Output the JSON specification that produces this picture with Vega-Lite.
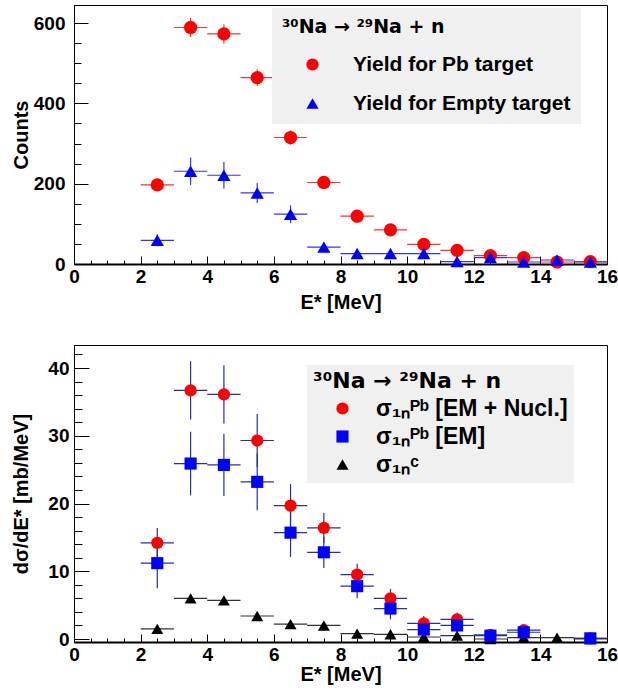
{
  "$schema": "https://vega.github.io/schema/vega-lite/v6.json",
  "padding": {"left": 10, "top": 4, "right": 0, "bottom": 0},
  "background": "white",
  "config": {
    "view": {"stroke": "black", "strokeWidth": 1},
    "axis": {
      "labelFont": "Liberation Sans", "labelFontWeight": "bold", "labelFontSize": 19, "labelColor": "black",
      "titleFont": "Liberation Sans", "titleFontWeight": "bold", "titleFontSize": 20, "titleColor": "black",
      "domainColor": "black", "tickColor": "black", "grid": false,
      "labelOverlap": false, "labelBound": false, "labelFlush": false
    },
    "legend": {
      "titleFont": "DejaVu Sans", "titleFontWeight": "bold", "titleColor": "black", "titleLimit": 400,
      "labelFont": "Liberation Sans", "labelFontWeight": "bold", "labelColor": "black",
      "fillColor": "#f0f0f0", "strokeColor": null
    }
  },
  "datasets": {
    "pts": [
      {"panel": "top", "series": "Yield for Pb target", "E": 2.5, "lo": 2, "hi": 3, "y": 197, "ylo": 183, "yhi": 211},
      {"panel": "top", "series": "Yield for Pb target", "E": 3.5, "lo": 3, "hi": 4, "y": 589, "ylo": 565, "yhi": 613},
      {"panel": "top", "series": "Yield for Pb target", "E": 4.5, "lo": 4, "hi": 5, "y": 573, "ylo": 549, "yhi": 597},
      {"panel": "top", "series": "Yield for Pb target", "E": 5.5, "lo": 5, "hi": 6, "y": 464, "ylo": 443, "yhi": 485},
      {"panel": "top", "series": "Yield for Pb target", "E": 6.5, "lo": 6, "hi": 7, "y": 315, "ylo": 297, "yhi": 333},
      {"panel": "top", "series": "Yield for Pb target", "E": 7.5, "lo": 7, "hi": 8, "y": 203, "ylo": 189, "yhi": 217},
      {"panel": "top", "series": "Yield for Pb target", "E": 8.5, "lo": 8, "hi": 9, "y": 119, "ylo": 108, "yhi": 130},
      {"panel": "top", "series": "Yield for Pb target", "E": 9.5, "lo": 9, "hi": 10, "y": 85, "ylo": 76, "yhi": 94},
      {"panel": "top", "series": "Yield for Pb target", "E": 10.5, "lo": 10, "hi": 11, "y": 49, "ylo": 42, "yhi": 56},
      {"panel": "top", "series": "Yield for Pb target", "E": 11.5, "lo": 11, "hi": 12, "y": 34, "ylo": 28, "yhi": 40},
      {"panel": "top", "series": "Yield for Pb target", "E": 12.5, "lo": 12, "hi": 13, "y": 21, "ylo": 16, "yhi": 26},
      {"panel": "top", "series": "Yield for Pb target", "E": 13.5, "lo": 13, "hi": 14, "y": 16, "ylo": 12, "yhi": 20},
      {"panel": "top", "series": "Yield for Pb target", "E": 14.5, "lo": 14, "hi": 15, "y": 5, "ylo": 3, "yhi": 7},
      {"panel": "top", "series": "Yield for Pb target", "E": 15.5, "lo": 15, "hi": 16, "y": 6, "ylo": 4, "yhi": 8},
      {"panel": "top", "series": "Yield for Empty target", "E": 2.5, "lo": 2, "hi": 3, "y": 59, "ylo": 44, "yhi": 74},
      {"panel": "top", "series": "Yield for Empty target", "E": 3.5, "lo": 3, "hi": 4, "y": 231, "ylo": 197, "yhi": 265},
      {"panel": "top", "series": "Yield for Empty target", "E": 4.5, "lo": 4, "hi": 5, "y": 221, "ylo": 188, "yhi": 254},
      {"panel": "top", "series": "Yield for Empty target", "E": 5.5, "lo": 5, "hi": 6, "y": 177, "ylo": 152, "yhi": 202},
      {"panel": "top", "series": "Yield for Empty target", "E": 6.5, "lo": 6, "hi": 7, "y": 124, "ylo": 102, "yhi": 146},
      {"panel": "top", "series": "Yield for Empty target", "E": 7.5, "lo": 7, "hi": 8, "y": 42, "ylo": 30, "yhi": 54},
      {"panel": "top", "series": "Yield for Empty target", "E": 8.5, "lo": 8, "hi": 9, "y": 26, "ylo": 17, "yhi": 35},
      {"panel": "top", "series": "Yield for Empty target", "E": 9.5, "lo": 9, "hi": 10, "y": 26, "ylo": 17, "yhi": 35},
      {"panel": "top", "series": "Yield for Empty target", "E": 10.5, "lo": 10, "hi": 11, "y": 26, "ylo": 17, "yhi": 35},
      {"panel": "top", "series": "Yield for Empty target", "E": 11.5, "lo": 11, "hi": 12, "y": 6, "ylo": 2, "yhi": 10},
      {"panel": "top", "series": "Yield for Empty target", "E": 12.5, "lo": 12, "hi": 13, "y": 16, "ylo": 9, "yhi": 23},
      {"panel": "top", "series": "Yield for Empty target", "E": 13.5, "lo": 13, "hi": 14, "y": 5, "ylo": 1, "yhi": 9},
      {"panel": "top", "series": "Yield for Empty target", "E": 14.5, "lo": 14, "hi": 15, "y": 10, "ylo": 5, "yhi": 15},
      {"panel": "top", "series": "Yield for Empty target", "E": 15.5, "lo": 15, "hi": 16, "y": 5, "ylo": 1, "yhi": 9},
      {"panel": "bot", "series": "C", "E": 2.5, "lo": 2, "hi": 3, "y": 1.5, "ylo": 1.2, "yhi": 1.8},
      {"panel": "bot", "series": "C", "E": 3.5, "lo": 3, "hi": 4, "y": 6.0, "ylo": 5.6, "yhi": 6.4},
      {"panel": "bot", "series": "C", "E": 4.5, "lo": 4, "hi": 5, "y": 5.7, "ylo": 5.3, "yhi": 6.1},
      {"panel": "bot", "series": "C", "E": 5.5, "lo": 5, "hi": 6, "y": 3.4, "ylo": 3.1, "yhi": 3.7},
      {"panel": "bot", "series": "C", "E": 6.5, "lo": 6, "hi": 7, "y": 2.2, "ylo": 2.0, "yhi": 2.4},
      {"panel": "bot", "series": "C", "E": 7.5, "lo": 7, "hi": 8, "y": 2.0, "ylo": 1.8, "yhi": 2.2},
      {"panel": "bot", "series": "C", "E": 8.5, "lo": 8, "hi": 9, "y": 0.8, "ylo": 0.6, "yhi": 1.0},
      {"panel": "bot", "series": "C", "E": 9.5, "lo": 9, "hi": 10, "y": 0.7, "ylo": 0.5, "yhi": 0.9},
      {"panel": "bot", "series": "C", "E": 10.5, "lo": 10, "hi": 11, "y": 0.3, "ylo": 0.2, "yhi": 0.4},
      {"panel": "bot", "series": "C", "E": 11.5, "lo": 11, "hi": 12, "y": 0.5, "ylo": 0.4, "yhi": 0.6},
      {"panel": "bot", "series": "C", "E": 12.5, "lo": 12, "hi": 13, "y": 0.0, "ylo": 0.0, "yhi": 0.1},
      {"panel": "bot", "series": "C", "E": 13.5, "lo": 13, "hi": 14, "y": 0.2, "ylo": 0.1, "yhi": 0.3},
      {"panel": "bot", "series": "C", "E": 14.5, "lo": 14, "hi": 15, "y": 0.2, "ylo": 0.1, "yhi": 0.3},
      {"panel": "bot", "series": "C", "E": 15.5, "lo": 15, "hi": 16, "y": 0.0, "ylo": 0.0, "yhi": 0.1},
      {"panel": "bot", "series": "EMN", "E": 2.5, "lo": 2, "hi": 3, "y": 14.2, "ylo": 12.0, "yhi": 16.4},
      {"panel": "bot", "series": "EMN", "E": 3.5, "lo": 3, "hi": 4, "y": 36.7, "ylo": 32.4, "yhi": 41.0},
      {"panel": "bot", "series": "EMN", "E": 4.5, "lo": 4, "hi": 5, "y": 36.1, "ylo": 31.8, "yhi": 40.4},
      {"panel": "bot", "series": "EMN", "E": 5.5, "lo": 5, "hi": 6, "y": 29.3, "ylo": 25.4, "yhi": 33.2},
      {"panel": "bot", "series": "EMN", "E": 6.5, "lo": 6, "hi": 7, "y": 19.7, "ylo": 16.5, "yhi": 22.9},
      {"panel": "bot", "series": "EMN", "E": 7.5, "lo": 7, "hi": 8, "y": 16.4, "ylo": 14.2, "yhi": 18.6},
      {"panel": "bot", "series": "EMN", "E": 8.5, "lo": 8, "hi": 9, "y": 9.5, "ylo": 7.9, "yhi": 11.1},
      {"panel": "bot", "series": "EMN", "E": 9.5, "lo": 9, "hi": 10, "y": 6.0, "ylo": 4.6, "yhi": 7.4},
      {"panel": "bot", "series": "EMN", "E": 10.5, "lo": 10, "hi": 11, "y": 2.3, "ylo": 1.2, "yhi": 3.4},
      {"panel": "bot", "series": "EMN", "E": 11.5, "lo": 11, "hi": 12, "y": 2.9, "ylo": 1.9, "yhi": 3.9},
      {"panel": "bot", "series": "EMN", "E": 12.5, "lo": 12, "hi": 13, "y": 0.6, "ylo": 0.0, "yhi": 1.2},
      {"panel": "bot", "series": "EMN", "E": 13.5, "lo": 13, "hi": 14, "y": 1.3, "ylo": 0.7, "yhi": 1.9},
      {"panel": "bot", "series": "EMN", "E": 15.5, "lo": 15, "hi": 16, "y": 0.1, "ylo": -0.2, "yhi": 0.4},
      {"panel": "bot", "series": "EM", "E": 2.5, "lo": 2, "hi": 3, "y": 11.2, "ylo": 7.5, "yhi": 14.9},
      {"panel": "bot", "series": "EM", "E": 3.5, "lo": 3, "hi": 4, "y": 25.9, "ylo": 21.2, "yhi": 30.6},
      {"panel": "bot", "series": "EM", "E": 4.5, "lo": 4, "hi": 5, "y": 25.7, "ylo": 21.1, "yhi": 30.3},
      {"panel": "bot", "series": "EM", "E": 5.5, "lo": 5, "hi": 6, "y": 23.2, "ylo": 19.0, "yhi": 27.4},
      {"panel": "bot", "series": "EM", "E": 6.5, "lo": 6, "hi": 7, "y": 15.7, "ylo": 12.1, "yhi": 19.3},
      {"panel": "bot", "series": "EM", "E": 7.5, "lo": 7, "hi": 8, "y": 12.8, "ylo": 10.5, "yhi": 15.1},
      {"panel": "bot", "series": "EM", "E": 8.5, "lo": 8, "hi": 9, "y": 7.8, "ylo": 6.0, "yhi": 9.6},
      {"panel": "bot", "series": "EM", "E": 9.5, "lo": 9, "hi": 10, "y": 4.5, "ylo": 2.9, "yhi": 6.1},
      {"panel": "bot", "series": "EM", "E": 10.5, "lo": 10, "hi": 11, "y": 1.4, "ylo": 0.2, "yhi": 2.6},
      {"panel": "bot", "series": "EM", "E": 11.5, "lo": 11, "hi": 12, "y": 2.0, "ylo": 0.8, "yhi": 3.2},
      {"panel": "bot", "series": "EM", "E": 12.5, "lo": 12, "hi": 13, "y": 0.5, "ylo": -0.2, "yhi": 1.2},
      {"panel": "bot", "series": "EM", "E": 13.5, "lo": 13, "hi": 14, "y": 1.0, "ylo": 0.4, "yhi": 1.6},
      {"panel": "bot", "series": "EM", "E": 15.5, "lo": 15, "hi": 16, "y": 0.1, "ylo": -0.2, "yhi": 0.4}
    ],
    "labels": [
      {"series": "EMN", "label": "σ₁ₙᴾᵇ [EM + Nucl.]"},
      {"series": "EM", "label": "σ₁ₙᴾᵇ [EM]"},
      {"series": "C", "label": "σ₁ₙᶜ"}
    ]
  },
  "data": {"name": "pts"},
  "resolve": {"scale": {"color": "independent", "shape": "independent", "size": "independent"}, "legend": {"color": "independent", "shape": "independent", "size": "independent"}},
  "spacing": 31,
  "vconcat": [
    {
      "width": 533,
      "height": 259,
      "transform": [{"filter": "datum.panel === 'top'"}],
      "resolve": {"axis": {"x": "independent", "y": "independent"}},
      "layer": [
        {"transform": [{"filter": "datum.series === 'Yield for Pb target'"}], "mark": {"type": "rule", "color": "#ff3030", "strokeWidth": 1.2},
          "encoding": {
            "x": {"field": "lo", "type": "quantitative", "scale": {"domain": [0, 16], "nice": false, "zero": false},
              "axis": {"orient": "bottom", "title": "E* [MeV]", "values": [0,2,4,6,8,10,12,14,16], "format": "d", "tickSize": -8, "labelPadding": 11, "titlePadding": 6, "domainWidth": 2, "labelOverlap": false}},
            "x2": {"field": "hi"},
            "y": {"field": "y", "type": "quantitative", "scale": {"domain": [0, 645], "nice": false},
              "axis": {"orient": "left", "title": "Counts", "values": [0,200,400,600], "format": "d", "tickSize": -14, "labelPadding": 23, "titlePadding": 2, "domainWidth": 1, "labelOverlap": false}}}},
        {"transform": [{"filter": "datum.series === 'Yield for Pb target'"}], "mark": {"type": "rule", "color": "#ff3030", "strokeWidth": 1.2},
          "encoding": {
            "x": {"field": "E", "type": "quantitative",
              "axis": {"orient": "bottom", "title": null, "labels": false, "domain": false, "values": [0.5,1,1.5,2.5,3,3.5,4.5,5,5.5,6.5,7,7.5,8.5,9,9.5,10.5,11,11.5,12.5,13,13.5,14.5,15,15.5], "tickSize": -4}},
            "y": {"field": "ylo", "type": "quantitative",
              "axis": {"orient": "left", "title": null, "labels": false, "domain": false, "values": [50,100,150,250,300,350,450,500,550], "tickSize": -7}},
            "y2": {"field": "yhi"}}},
        {"transform": [{"filter": "datum.series === 'Yield for Empty target'"}], "mark": {"type": "rule", "color": "#3030ff", "strokeWidth": 1.2},
          "encoding": {"x": {"field": "lo", "type": "quantitative", "axis": null}, "x2": {"field": "hi"}, "y": {"field": "y", "type": "quantitative", "axis": null}}},
        {"transform": [{"filter": "datum.series === 'Yield for Empty target'"}], "mark": {"type": "rule", "color": "#3030ff", "strokeWidth": 1.2},
          "encoding": {"x": {"field": "E", "type": "quantitative", "axis": null}, "y": {"field": "ylo", "type": "quantitative", "axis": null}, "y2": {"field": "yhi"}}},
        {"mark": {"type": "point", "filled": true, "opacity": 1, "size": 175},
          "encoding": {
            "x": {"field": "E", "type": "quantitative", "axis": null},
            "y": {"field": "y", "type": "quantitative", "axis": null},
            "color": {"field": "series", "type": "nominal", "scale": {"domain": ["Yield for Pb target", "Yield for Empty target"], "range": ["#ff0000", "#0000ff"]},
              "legend": {"title": "³⁰Na → ²⁹Na + n", "orient": "none", "legendX": 198, "legendY": 3, "padding": 10,
                "titleFontSize": 19, "labelFontSize": 21, "titlePadding": 17, "rowPadding": 17, "symbolOffset": 20, "labelOffset": 30, "symbolSize": 150, "labelLimit": 400}},
            "shape": {"field": "series", "type": "nominal", "scale": {"domain": ["Yield for Pb target", "Yield for Empty target"], "range": ["circle", "triangle-up"]},
              "legend": {"title": "³⁰Na → ²⁹Na + n", "orient": "none", "legendX": 198, "legendY": 3}}
          }}
      ]
    },
    {
      "width": 533,
      "height": 297,
      "transform": [{"filter": "datum.panel === 'bot'"}, {"lookup": "series", "from": {"data": {"name": "labels"}, "key": "series", "fields": ["label"]}}],
      "resolve": {"axis": {"x": "independent", "y": "independent"}},
      "layer": [
        {"transform": [{"filter": "datum.series !== 'C'"}], "mark": {"type": "rule", "color": "#2030a8", "strokeWidth": 1.2},
          "encoding": {
            "x": {"field": "lo", "type": "quantitative", "scale": {"domain": [0, 16], "nice": false, "zero": false},
              "axis": {"orient": "bottom", "title": "E* [MeV]", "values": [0,2,4,6,8,10,12,14,16], "format": "d", "tickSize": -8, "labelPadding": 11, "titlePadding": 0, "domainWidth": 2, "labelOverlap": false}},
            "x2": {"field": "hi"},
            "y": {"field": "y", "type": "quantitative", "scale": {"domain": [-0.44, 43.4], "nice": false, "zero": false},
              "axis": {"orient": "left", "title": "dσ/dE* [mb/MeV]", "values": [0,10,20,30,40], "format": "d", "tickSize": -15, "labelPadding": 20, "titlePadding": 16, "domainWidth": 1, "labelOverlap": false}}}},
        {"transform": [{"filter": "datum.series !== 'C'"}], "mark": {"type": "rule", "color": "#2030a8", "strokeWidth": 1.2},
          "encoding": {
            "x": {"field": "E", "type": "quantitative",
              "axis": {"orient": "bottom", "title": null, "labels": false, "domain": false, "values": [0.5,1,1.5,2.5,3,3.5,4.5,5,5.5,6.5,7,7.5,8.5,9,9.5,10.5,11,11.5,12.5,13,13.5,14.5,15,15.5], "tickSize": -4}},
            "y": {"field": "ylo", "type": "quantitative",
              "axis": {"orient": "left", "title": null, "labels": false, "domain": false, "values": [2,4,6,8,12,14,16,18,22,24,26,28,32,34,36,38,42], "tickSize": -8}},
            "y2": {"field": "yhi"}}},
        {"transform": [{"filter": "datum.series === 'C'"}], "mark": {"type": "rule", "color": "#333333", "strokeWidth": 1.2},
          "encoding": {"x": {"field": "lo", "type": "quantitative", "axis": null}, "x2": {"field": "hi"}, "y": {"field": "y", "type": "quantitative", "axis": null}}},
        {"transform": [{"filter": "datum.series === 'C'"}], "mark": {"type": "rule", "color": "#333333", "strokeWidth": 1.2},
          "encoding": {"x": {"field": "E", "type": "quantitative", "axis": null}, "y": {"field": "ylo", "type": "quantitative", "axis": null}, "y2": {"field": "yhi"}}},
        {"mark": {"type": "point", "filled": true, "opacity": 1},
          "encoding": {
            "x": {"field": "E", "type": "quantitative", "axis": null},
            "y": {"field": "y", "type": "quantitative", "axis": null},
            "color": {"field": "label", "type": "nominal", "scale": {"domain": ["σ₁ₙᴾᵇ [EM + Nucl.]", "σ₁ₙᴾᵇ [EM]", "σ₁ₙᶜ"], "range": ["#ff0000", "#0000ff", "#000000"]},
              "legend": {"title": "³⁰Na → ²⁹Na + n", "orient": "none", "legendX": 233, "legendY": 20, "padding": 6,
                "titleFontSize": 22, "labelFontSize": 23, "titlePadding": 4, "rowPadding": 4, "symbolOffset": 18, "labelOffset": 22, "labelLimit": 400, "titleLimit": 400}},
            "shape": {"field": "label", "type": "nominal", "scale": {"domain": ["σ₁ₙᴾᵇ [EM + Nucl.]", "σ₁ₙᴾᵇ [EM]", "σ₁ₙᶜ"], "range": ["circle", "square", "triangle-up"]},
              "legend": {"title": "³⁰Na → ²⁹Na + n", "orient": "none", "legendX": 233, "legendY": 20}},
            "size": {"field": "label", "type": "nominal", "scale": {"domain": ["σ₁ₙᴾᵇ [EM + Nucl.]", "σ₁ₙᴾᵇ [EM]", "σ₁ₙᶜ"], "range": [150, 144, 110]},
              "legend": {"title": "³⁰Na → ²⁹Na + n", "orient": "none", "legendX": 233, "legendY": 20}}
          }}
      ]
    }
  ]
}
